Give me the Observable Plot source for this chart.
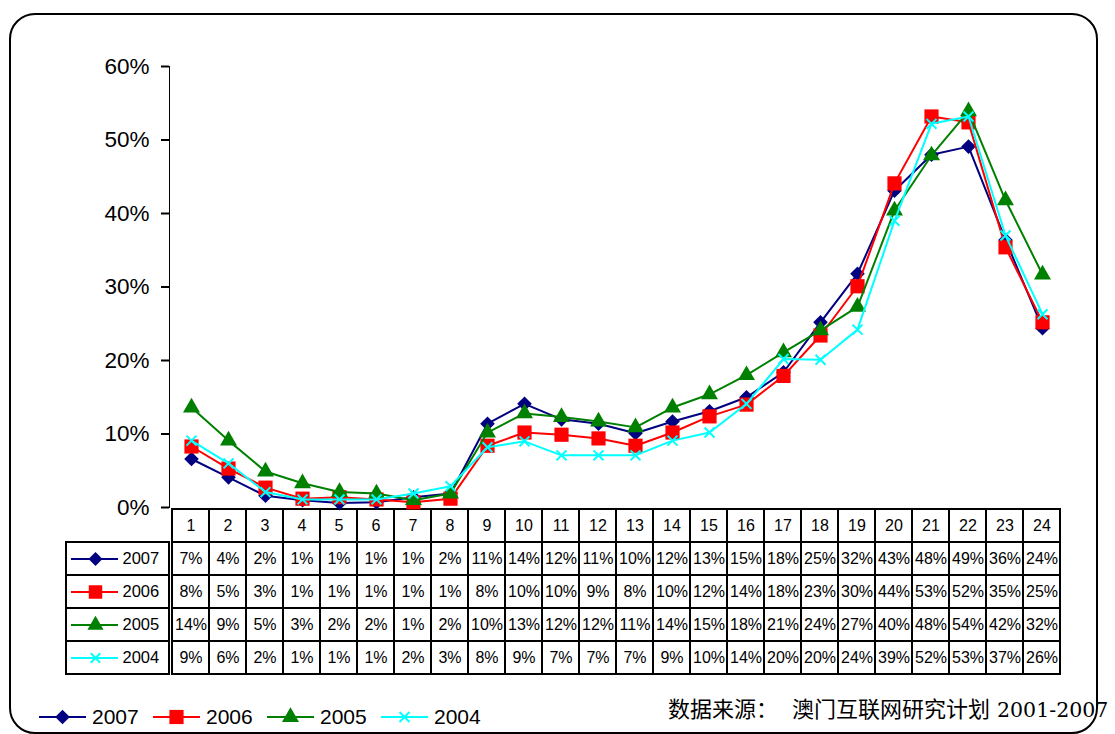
<!DOCTYPE html>
<html><head><meta charset="utf-8">
<script src="https://cdn.jsdelivr.net/npm/d3@7"></script>
<script src="https://cdn.jsdelivr.net/npm/@observablehq/plot@0.6"></script>
<style>
body{margin:0;background:#fff;}
#wrap{position:relative;width:1115px;height:734px;overflow:hidden;background:#fff;font-family:"Liberation Sans",Arial,sans-serif;}
#frame{position:absolute;left:9px;top:13px;width:1089px;height:721px;box-sizing:border-box;border:2px solid #000;border-radius:26px;}
.abs{position:absolute;}
.chart g[aria-label^="y-axis"] line,.chart g[aria-label^="y-axis"] path{stroke-width:2px;}
#source{font-family:"Noto Sans CJK SC",sans-serif;font-size:22px;line-height:26px;white-space:nowrap;color:#000;}
#source .s2{margin-left:14px;}
#source .s3{margin-left:7px;font-family:"DejaVu Serif",serif;font-size:20.5px;}
</style></head><body>
<div id="wrap">
<div id="frame"></div>
<div id="table" class="abs" style="left:0;top:507px"></div>
<div id="key" class="abs" style="left:66px;top:541px"></div>
<div id="chart" class="abs" style="left:0;top:0"></div>
<div id="legend" class="abs" style="left:38px;top:702px;display:flex"></div>
<div id="source" class="abs" style="left:668px;top:694px"></div>
</div>
<script>
// ---- data ----
const hours = [1,2,3,4,5,6,7,8,9,10,11,12,13,14,15,16,17,18,19,20,21,22,23,24];
const seriesNames = ["2007","2006","2005","2004"];
const v2007 = [6.6,4.1,1.6,1.0,0.6,0.7,1.4,1.9,11.4,14.1,12.0,11.4,10.1,11.7,13.1,15.0,18.4,25.2,31.8,43.1,48.0,49.1,36.4,24.4];
const v2006 = [8.3,5.3,2.7,1.2,1.4,1.1,0.7,1.2,8.4,10.2,9.9,9.4,8.4,10.2,12.4,14.0,17.9,23.4,30.1,44.1,53.2,52.4,35.4,25.2];
const v2005 = [13.6,9.1,4.9,3.3,2.1,1.9,1.0,1.9,10.2,12.8,12.3,11.7,10.9,13.6,15.4,18.0,21.1,24.1,27.3,40.4,47.9,53.9,41.8,31.7];
const v2004 = [9.1,6.0,2.1,1.1,1.1,1.1,1.9,2.9,8.2,9.0,7.1,7.1,7.1,9.1,10.2,14.1,20.2,20.1,24.2,39.0,52.2,53.2,37.0,26.3];
const yTicks = [0,10,20,30,40,50,60];
const sourceParts = ["数据来源：", "澳门互联网研究计划", "2001-2007"];

const valuesBySeries = {"2007": v2007, "2006": v2006, "2005": v2005, "2004": v2004};
const long = seriesNames.flatMap(s => hours.map((h, j) => ({series: s, hour: h, v: valuesBySeries[s][j]})));

// ---- styles ----
const styles = {
  "2007": {color: "#000080", symbol: "diamond2", d3sym: d3.symbolDiamond2, r: 6.6, filled: true},
  "2006": {color: "#FF0000", symbol: "square", d3sym: d3.symbolSquare, r: 8, filled: true},
  "2005": {color: "#008000", symbol: "triangle", d3sym: d3.symbolTriangle, r: 6.3, filled: true},
  "2004": {color: "#00FFFF", symbol: "times", d3sym: d3.symbolTimes, r: 4.6, filled: false}
};
const font = "Liberation Sans, Arial, sans-serif";

// ---- chart ----
const marks = [];
for (const s of seriesNames) {
  const st = styles[s];
  const d = long.filter(e => e.series === s);
  marks.push(Plot.line(d, {x: "hour", y: "v", stroke: st.color, strokeWidth: 2}));
  marks.push(Plot.dot(d, {x: "hour", y: "v", symbol: st.symbol, r: st.r,
    fill: st.filled ? st.color : "none", stroke: st.filled ? "none" : st.color, strokeWidth: 2}));
}
const chart = Plot.plot({
  width: 1115, height: 507, marginTop: 66, marginBottom: 0, marginLeft: 169, marginRight: 52,
  className: "chart",
  x: {type: "point", domain: hours, padding: 0.5, axis: null},
  y: {domain: [0, 60], ticks: yTicks, tickFormat: d => d + "%", tickSize: 8, tickPadding: 12, line: true, label: null},
  style: {fontSize: "22.5px", fontFamily: font, background: "transparent", overflow: "visible", color: "#000"},
  marks
});
document.getElementById("chart").appendChild(chart);

// ---- data table ----
const rowKeys = ["hour", ...seriesNames];
const header = hours.map(h => ({col: h, row: "hour", text: String(h)}));
const cells = long.map(d => ({col: d.hour, row: d.series, text: Math.round(d.v) + "%"}));
const tableData = [...header, ...cells];
const table = Plot.plot({
  width: 1115, height: 170, marginTop: 0, marginBottom: 2, marginLeft: 169, marginRight: 52,
  x: {type: "band", domain: hours, padding: 0, axis: null},
  y: {type: "band", domain: rowKeys, padding: 0, axis: null},
  style: {fontSize: "16px", fontFamily: font, background: "transparent", overflow: "visible", color: "#000"},
  marks: [
    Plot.cell(tableData, {x: "col", y: "row", fill: "white", stroke: "black", strokeWidth: 2}),
    Plot.text(tableData, {x: "col", y: "row", text: "text", fill: "black"})
  ]
});
document.getElementById("table").appendChild(table);

// ---- table key column ----
const keyMarks = [Plot.cell(seriesNames, {y: d => d, fill: "white", stroke: "black", strokeWidth: 2})];
for (const s of seriesNames) {
  const st = styles[s];
  keyMarks.push(Plot.ruleY([s], {y: d => d, stroke: st.color, strokeWidth: 2, insetLeft: 5, insetRight: 51}));
  keyMarks.push(Plot.dot([s], {y: d => d, frameAnchor: "left", dx: 29, symbol: st.symbol, r: st.r * 0.95,
    fill: st.filled ? st.color : "none", stroke: st.filled ? "none" : st.color, strokeWidth: 2}));
}
keyMarks.push(Plot.text(seriesNames, {y: d => d, text: d => d, frameAnchor: "left", dx: 56, textAnchor: "start", fill: "black"}));
const key = Plot.plot({
  width: 103, height: 134, marginTop: 0, marginBottom: 0, marginLeft: 0, marginRight: 0,
  y: {type: "band", domain: seriesNames, padding: 0, axis: null},
  style: {fontSize: "16.5px", fontFamily: font, background: "transparent", overflow: "visible", color: "#000"},
  marks: keyMarks
});
document.getElementById("key").appendChild(key);

// ---- bottom legend ----
const legend = d3.select("#legend");
for (const s of seriesNames) {
  const st = styles[s];
  const svg = legend.append("svg").attr("width", 114).attr("height", 30).style("overflow", "visible");
  svg.append("line").attr("x1", 1).attr("x2", 48).attr("y1", 15).attr("y2", 15)
    .attr("stroke", st.color).attr("stroke-width", 2);
  svg.append("path").attr("transform", "translate(24.5,15)")
    .attr("d", d3.symbol(st.d3sym, Math.PI * st.r * st.r)())
    .attr("fill", st.filled ? st.color : "none").attr("stroke", st.filled ? "none" : st.color).attr("stroke-width", 2);
  svg.append("text").attr("x", 54).attr("y", 15).attr("dy", "0.35em")
    .attr("font-family", font).attr("font-size", 21).attr("fill", "#000").text(s);
}

// ---- source caption ----
const src = d3.select("#source");
sourceParts.forEach((t, i) => src.append("span").attr("class", "s" + (i + 1)).text(t));
</script>
</body></html>
